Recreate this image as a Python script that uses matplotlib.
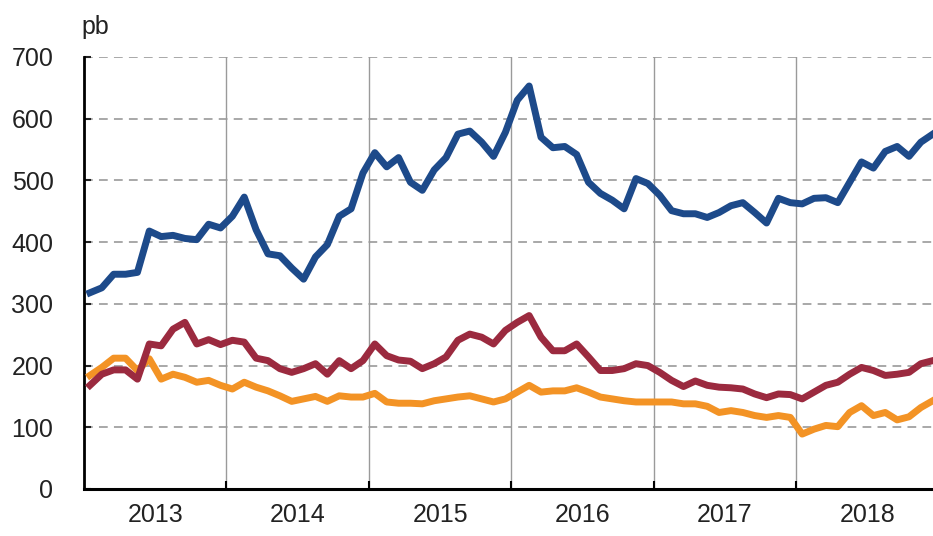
import matplotlib
matplotlib.use("Agg")
import matplotlib.pyplot as plt
import numpy as np

plt.rcParams['font.family'] = ['Liberation Sans', 'DejaVu Sans']

years = ["2013", "2014", "2015", "2016", "2017", "2018"]
y_ticks = [0, 100, 200, 300, 400, 500, 600, 700]
unit_label = "pb"

# Monthly values, Jan 2013 - Dec 2018
blue = [318, 326, 348, 348, 351, 418, 409, 411, 406, 404, 429, 423,
        442, 473, 420, 381, 378, 358, 340, 376, 396, 442, 454, 512,
        545, 522, 537, 497, 484, 517, 537, 575, 580, 562, 539, 578,
        630, 653, 570, 553, 555, 542, 497, 479, 468, 454, 503, 495,
        476, 451, 446, 446, 440, 448, 459, 464, 448, 431, 471, 464,
        462, 471, 472, 464, 497, 530, 520, 547, 555, 539, 562, 575]

red = [168, 186, 193, 193, 178, 235, 232, 259, 270, 235, 242, 234,
       241, 238, 212, 208, 195, 189, 195, 203, 186, 208, 195, 208,
       235, 216, 209, 207, 195, 203, 214, 241, 251, 246, 235, 257,
       270, 281, 246, 224, 224, 235, 214, 192, 192, 195, 203, 200,
       189, 176, 166, 175, 168, 165, 164, 162, 154, 148, 154, 153,
       146, 157, 168, 173, 186, 197, 192, 184, 186, 189, 203, 208]

orange = [184, 197, 212, 212, 192, 211, 178, 186, 181, 173, 176, 168,
          162, 173, 165, 159, 151, 142, 146, 150, 142, 151, 149, 149,
          155, 141, 139, 139, 138, 143, 146, 149, 151, 146, 141, 146,
          157, 168, 157, 159, 159, 164, 157, 149, 146, 143, 141, 141,
          141, 141, 138, 138, 134, 124, 127, 124, 119, 116, 119, 116,
          89, 97, 103, 101, 124, 135, 119, 124, 112, 117, 132, 143]

fig = plt.figure(figsize=(9.33, 5.36), dpi=100)
ax = fig.add_axes([84 / 933, 1 - 489 / 536, 1 - 84 / 933 + 0.001, (489 - 57) / 536])

x = np.arange(len(blue)) + 0.5
lw = 5.0
ax.plot(x, orange, color="#f39325", lw=lw, solid_joinstyle="round", zorder=3)
ax.plot(x, red, color="#9b2a3f", lw=lw, solid_joinstyle="round", zorder=4)
ax.plot(x, blue, color="#1d4a8a", lw=lw, solid_joinstyle="round", zorder=5)

ax.set_ylim(0, 700)
ax.set_xlim(0, 71.6)

# horizontal dashed grid
for v in y_ticks[1:]:
    ax.axhline(v, color="#a8a8a8", lw=1.4, ls=(0, (4.5, 3.2)), zorder=1)
# vertical year separators
for i in range(1, len(years)):
    ax.axvline(12 * i, color="#9a9a9a", lw=1.0, zorder=1)

ax.set_yticks(y_ticks)
ax.set_yticklabels([str(v) for v in y_ticks])
ax.set_xticks([12 * i for i in range(1, len(years))])
ax.set_xticklabels([])
ax.set_xticks([12 * i + 6 for i in range(len(years))], minor=True)
ax.set_xticklabels(years, minor=True)

ax.tick_params(axis="y", direction="in", length=5, width=1.5, labelsize=18, pad=22, colors="#222222")
ax.tick_params(axis="x", which="major", direction="in", length=6, width=1.5)
ax.tick_params(axis="x", which="minor", length=0, labelsize=18, pad=10, labelcolor="#222222")

for s in ["top", "right"]:
    ax.spines[s].set_visible(False)
ax.spines["left"].set_linewidth(2.0)
ax.spines["bottom"].set_linewidth(2.2)

fig.text(81 / 933, 1 - 27 / 536, unit_label, fontsize=18, color="#222222", va="center", ha="left")

fig.savefig("out.png", dpi=100)
